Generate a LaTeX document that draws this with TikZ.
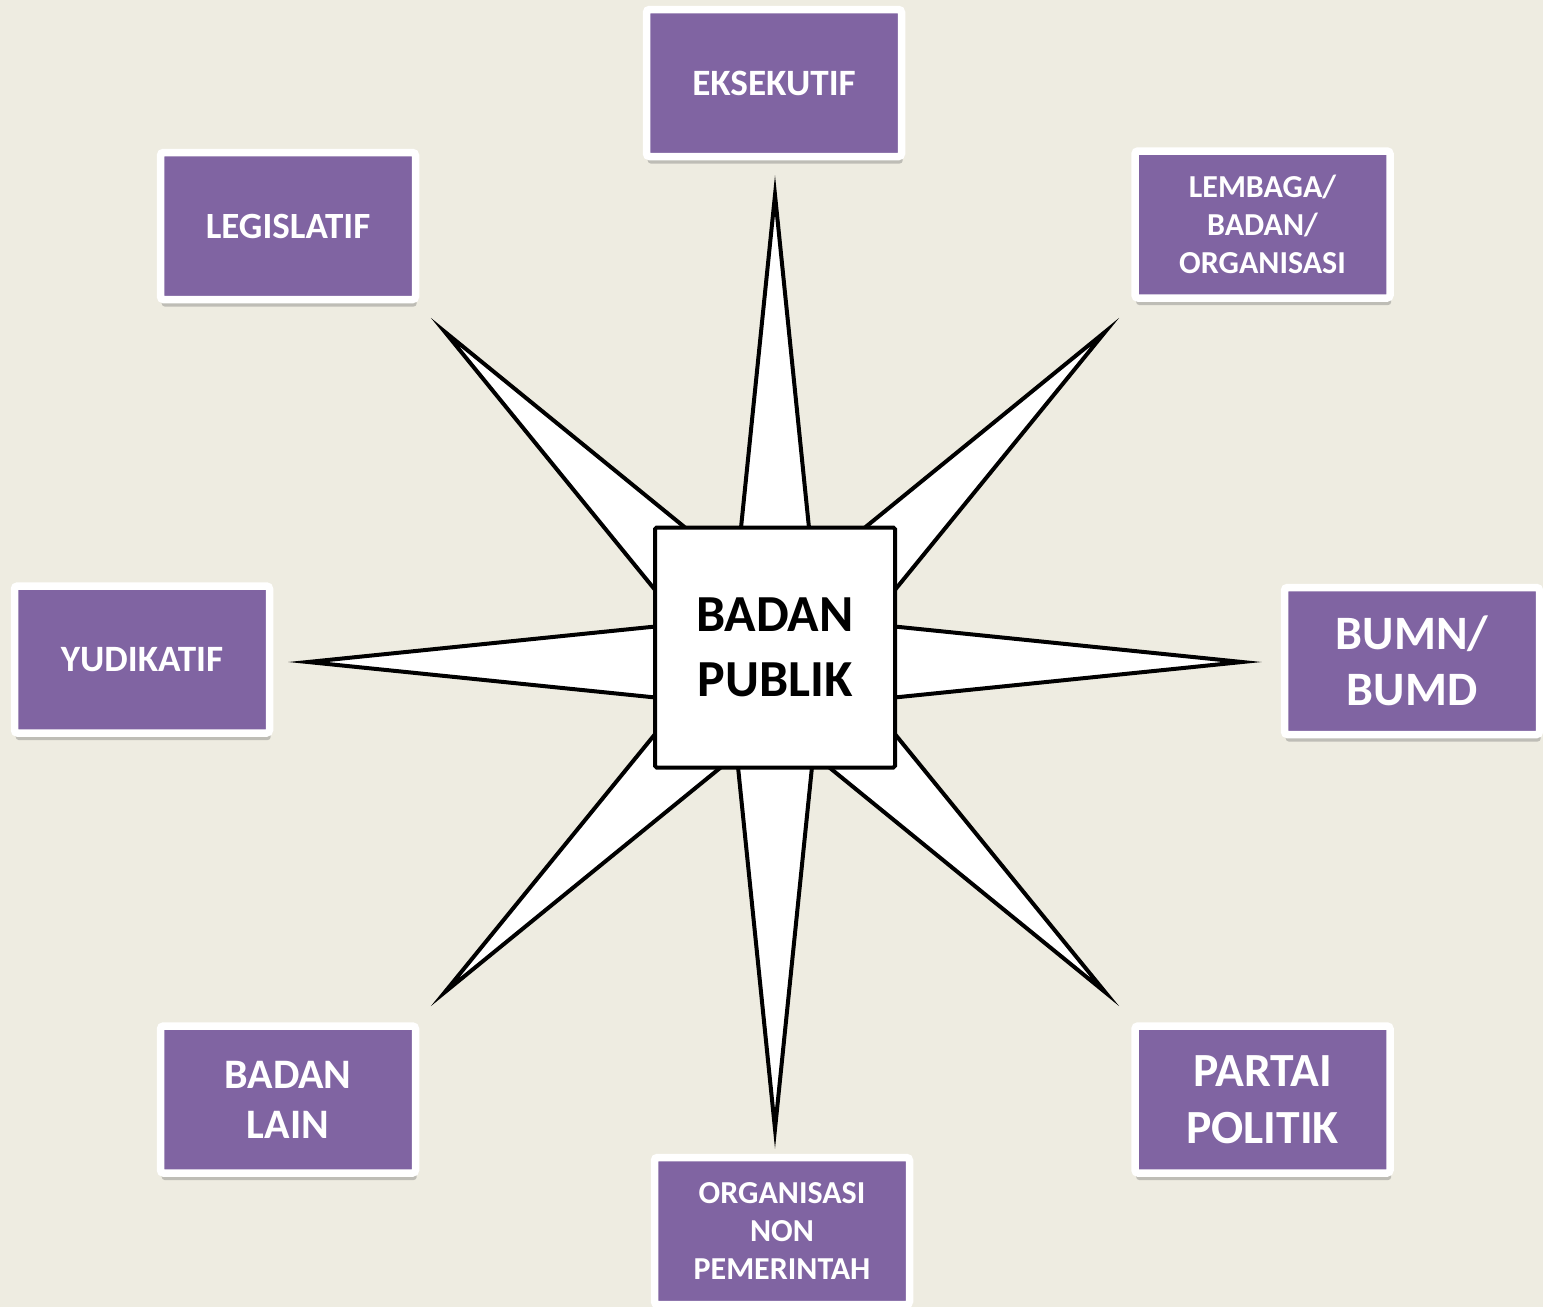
\documentclass[tikz,border=0pt]{standalone}
\usepackage{fontspec}
\setmainfont{Carlito}
\usetikzlibrary{shapes.geometric,shadows}
\definecolor{paper}{HTML}{EEECE1}
\definecolor{ungu}{HTML}{8064A2}
\tikzset{
  unitbox/.style={rectangle, fill=ungu, draw=white, line width=3.75pt, rounded corners=1.5pt,
    minimum width=127.5pt, minimum height=73.5pt, inner sep=0pt, text=white, align=center,
    drop shadow={shadow xshift=0.6pt, shadow yshift=-3.5pt, opacity=0.35, fill=black!60}},
  hubbox/.style={rectangle, fill=white, draw=black, line width=2pt, rounded corners=0.8pt,
    minimum size=120pt, inner sep=0pt, align=center},
  rose/.style={star, star points=8, star point ratio=4.67, minimum size=467pt, inner sep=0pt,
    draw=black, fill=white, line width=2pt, miter limit=25}
}
\begin{document}
\begin{tikzpicture}[x=0.5pt,y=-0.5pt]
\clip (0,0) rectangle (1543,1307);
\fill[paper] (0,0) rectangle (1543,1307);
% star behind the centre
\node[rose] (rose) at (775,662) {};
\node[hubbox, font=\fontsize{26}{32.5}\selectfont\bfseries] (publik) at (775,647.5) {BADAN\\PUBLIK};
% the boxes round it
\node[unitbox, font=\fontsize{18.6}{21}\selectfont\bfseries] (eksekutif) at (774,83) {EKSEKUTIF};
\node[unitbox, font=\fontsize{18.5}{21}\selectfont\bfseries] (legislatif) at (288,226) {LEGISLATIF};
\node[unitbox, font=\fontsize{16}{19}\selectfont\bfseries] (lembaga) at (1262.5,224.5) {LEMBAGA/\\BADAN/\\ORGANISASI};
\node[unitbox, font=\fontsize{18.6}{21}\selectfont\bfseries] (yudikatif) at (142,659.5) {YUDIKATIF};
\node[unitbox, font=\fontsize{24}{28}\selectfont\bfseries] (bumn) at (1412,661) {BUMN/\\BUMD};
\node[unitbox, font=\fontsize{21}{25}\selectfont\bfseries] (lain) at (288,1099.5) {BADAN\\LAIN};
\node[unitbox, font=\fontsize{23.8}{28.3}\selectfont\bfseries] (partai) at (1262.5,1099.5) {PARTAI\\POLITIK};
\node[unitbox, font=\fontsize{16}{19}\selectfont\bfseries] (ornop) at (782,1231) {ORGANISASI\\NON\\PEMERINTAH};
\end{tikzpicture}
\end{document}
